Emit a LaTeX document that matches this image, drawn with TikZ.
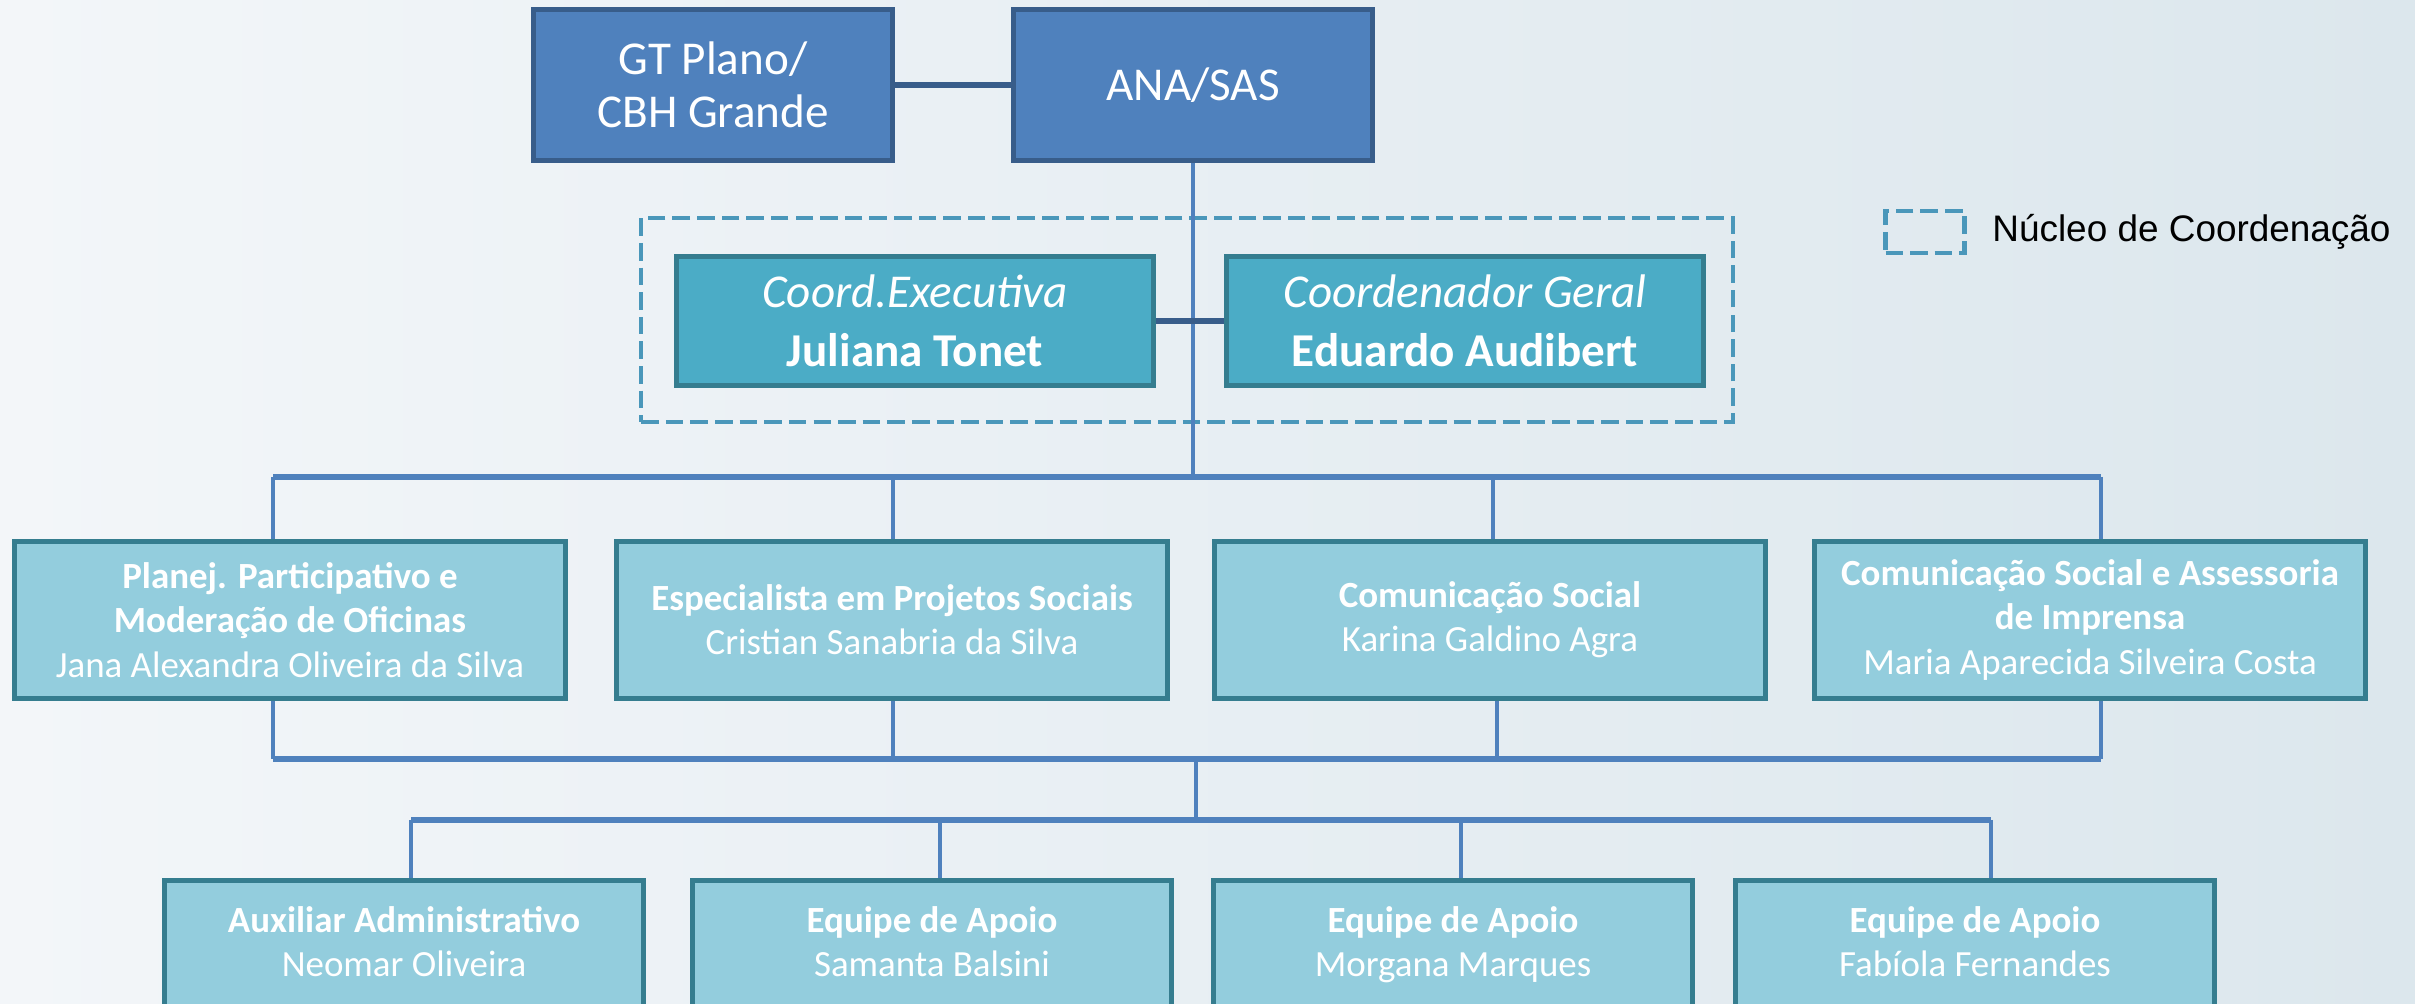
\documentclass[tikz,border=0pt]{standalone}
\usepackage{fontspec}
\setmainfont{Carlito}
\newfontfamily\legfont{Liberation Sans}
\usetikzlibrary{positioning}
\definecolor{azul}{HTML}{4F81BD}
\definecolor{azulesc}{HTML}{385D8A}
\definecolor{aqua}{HTML}{4BACC6}
\definecolor{aquaclaro}{HTML}{93CDDD}
\definecolor{borda}{HTML}{357D8F}
\definecolor{tracejado}{HTML}{4A97BA}
\definecolor{fundoa}{HTML}{F3F6F9}
\definecolor{fundob}{HTML}{DCE7ED}

\begin{document}
\begin{tikzpicture}[x=0.01cm,y=-0.01cm]
	\tikzset{
	  topbox/.style={draw=azulesc,line width=1.4pt,fill=azul,text=white,align=center,
	    minimum width=3.58cm,minimum height=1.51cm,font=\fontsize{13.4}{15}\selectfont},
	  coordbox/.style={draw=borda,line width=1.4pt,fill=aqua,text=white,align=center,
	    minimum width=4.77cm,minimum height=1.29cm,font=\fontsize{13.4}{16.8}\selectfont},
	  rolebox/.style={draw=borda,line width=1.4pt,fill=aquaclaro,text=white,align=center,
	    minimum width=5.5cm,minimum height=1.57cm,font=\fontsize{10.5}{12.6}\selectfont},
	  teambox/.style={rolebox,minimum width=4.78cm,minimum height=1.34cm,execute at end node=\strut},
	  nucleo/.style={draw=tracejado,line width=1.2pt,dash pattern=on 5pt off 2pt},
	  link/.style={draw=azulesc,line width=1.5pt},
	  bus/.style={draw=azul,line width=1.5pt},
	  drop/.style={draw=azul,line width=1pt}
	}

  \useasboundingbox (0,0) rectangle (2415,1004);
  \clip (0,0) rectangle (2415,1004);
  \shade[left color=fundoa,right color=fundob] (0,0) rectangle (2415,1004);

  \node[topbox] (gt) at (713,85) {GT Plano/\\CBH Grande};
  \node[topbox] (ana) at (1193,85) {ANA/SAS};
  \draw[link] (gt) -- (ana);

  \node[nucleo,minimum width=10.91cm,minimum height=2.04cm] (nuc) at (1187,320) {};
  \node[coordbox] (exe) at (915,321) {\textit{Coord.Executiva}\\\textbf{Juliana Tonet}};
  \node[coordbox] (geral) at (1465,321) {\textit{Coordenador Geral}\\\textbf{Eduardo Audibert}};

  \node[nucleo,minimum width=0.79cm,minimum height=0.42cm] (leg) at (1925,232) {};
  \node[right=0.25cm of leg,inner sep=0pt,font=\legfont\fontsize{10.5}{12}\selectfont] (legtxt) {Núcleo de Coordenação};

  \node[rolebox] (planej) at (290,620) {\textbf{Planej. Participativo e}\\\textbf{Moderação de Oficinas}\\Jana Alexandra Oliveira da Silva};
  \node[rolebox] (espec) at (892,620) {\textbf{Especialista em Projetos Sociais}\\Cristian Sanabria da Silva};
  \node[rolebox] (comsoc) at (1490,620) {\textbf{Comunicação Social}\\Karina Galdino Agra};
  \node[rolebox] (assess) at (2090,620) {\textbf{Comunicação Social e Assessoria}\\\textbf{de Imprensa}\\Maria Aparecida Silveira Costa};

  \node[teambox] (aux) at (404,948) {\textbf{Auxiliar Administrativo}\\Neomar Oliveira};
  \node[teambox] (samanta) at (932,948) {\textbf{Equipe de Apoio}\\Samanta Balsini};
  \node[teambox] (morgana) at (1453,948) {\textbf{Equipe de Apoio}\\Morgana Marques};
  \node[teambox] (fabiola) at (1975,948) {\textbf{Equipe de Apoio}\\Fabíola Fernandes};

  \coordinate (b1a) at (273,477);
  \coordinate (b1b) at (893,477);
  \coordinate (b1c) at (1493,477);
  \coordinate (b1d) at (2101,477);
  \draw[drop] (ana.south) -- (ana.south |- b1a);
  \draw[link] (exe) -- (geral);
  \draw[bus] (b1a) -- (b1d);
  \draw[drop] (b1a) -- (b1a |- planej.north);
  \draw[drop] (b1b) -- (b1b |- espec.north);
  \draw[drop] (b1c) -- (b1c |- comsoc.north);
  \draw[drop] (b1d) -- (b1d |- assess.north);

  \coordinate (b2a) at (273,759);
  \coordinate (b2b) at (893,759);
  \coordinate (b2c) at (1497,759);
  \coordinate (b2d) at (2101,759);
  \draw[drop] (b2a |- planej.south) -- (b2a);
  \draw[drop] (b2b |- espec.south) -- (b2b);
  \draw[drop] (b2c |- comsoc.south) -- (b2c);
  \draw[drop] (b2d |- assess.south) -- (b2d);
  \draw[bus] (b2a) -- (b2d);

  \coordinate (b3m) at (1196,820);
  \coordinate (b3a) at (411,820);
  \coordinate (b3b) at (940,820);
  \coordinate (b3c) at (1461,820);
  \coordinate (b3d) at (1991,820);
  \draw[drop] (b3m |- b2a) -- (b3m);
  \draw[bus] (b3a) -- (b3d);
  \draw[drop] (b3a) -- (b3a |- aux.north);
  \draw[drop] (b3b) -- (b3b |- samanta.north);
  \draw[drop] (b3c) -- (b3c |- morgana.north);
  \draw[drop] (b3d) -- (b3d |- fabiola.north);

\end{tikzpicture}
\end{document}
